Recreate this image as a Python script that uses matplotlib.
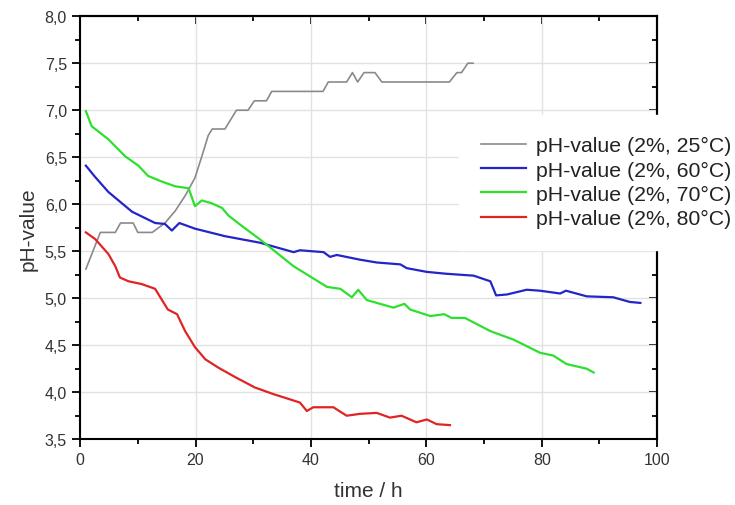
import matplotlib.pyplot as plt
from matplotlib.ticker import MultipleLocator, FuncFormatter

plt.rcParams['font.family'] = ['Liberation Sans', 'DejaVu Sans']

# 25 C
t25 = [1.0, 3.5, 6.1, 7.0, 9.2, 10.0, 12.5, 14.7, 16.5, 18.2, 19.9, 21.1, 22.2, 22.9,
       25.1, 27.1, 29.1, 30.2, 32.3, 33.2, 42.1, 43.0, 46.2, 47.2, 48.1, 49.2, 51.1,
       52.3, 64.0, 65.3, 66.1, 67.2, 68.1]
ph25 = [5.31, 5.70, 5.70, 5.80, 5.80, 5.70, 5.70, 5.80, 5.93, 6.09, 6.28, 6.51, 6.73, 6.80,
        6.80, 7.00, 7.00, 7.10, 7.10, 7.20, 7.20, 7.30, 7.30, 7.40, 7.30, 7.40, 7.40,
        7.30, 7.30, 7.40, 7.40, 7.50, 7.50]

# 60 C
t60 = [1.0, 2.6, 4.9, 9.0, 13.0, 14.7, 15.9, 17.2, 19.9, 25.1, 31.2, 37.0, 38.1, 42.2,
       43.3, 44.5, 48.5, 51.4, 55.5, 56.6, 60.1, 63.5, 68.2, 71.1, 72.1, 74.0, 77.4,
       79.7, 83.2, 84.2, 87.8, 92.4, 95.3, 97.1]
ph60 = [6.41, 6.29, 6.13, 5.92, 5.80, 5.79, 5.72, 5.80, 5.74, 5.66, 5.59, 5.49, 5.51, 5.49,
        5.44, 5.46, 5.41, 5.38, 5.36, 5.32, 5.28, 5.26, 5.24, 5.18, 5.03, 5.04, 5.09,
        5.08, 5.05, 5.08, 5.02, 5.01, 4.96, 4.95]

# 70 C
t70 = [1.0, 2.0, 4.9, 7.8, 10.1, 11.8, 14.2, 16.5, 18.8, 19.9, 21.1, 22.8, 24.6, 25.7,
       28.0, 31.3, 37.0, 42.8, 45.1, 47.1, 48.2, 49.7, 54.3, 56.2, 57.2, 60.7, 63.1,
       64.4, 66.7, 71.1, 75.1, 79.7, 82.0, 84.3, 87.8, 89.0]
ph70 = [6.99, 6.83, 6.69, 6.51, 6.41, 6.30, 6.24, 6.19, 6.17, 5.98, 6.04, 6.01, 5.96, 5.88,
        5.77, 5.62, 5.34, 5.12, 5.10, 5.01, 5.09, 4.98, 4.90, 4.94, 4.88, 4.81, 4.83,
        4.79, 4.79, 4.65, 4.56, 4.42, 4.39, 4.30, 4.25, 4.21]

# 80 C
t80 = [1.0, 2.6, 4.9, 6.1, 6.9, 8.4, 10.7, 13.0, 14.2, 15.2, 16.8, 18.2, 19.9, 21.7,
       24.0, 26.9, 30.3, 33.5, 38.1, 39.3, 40.4, 43.9, 46.2, 48.5, 51.4, 53.7, 55.7,
       58.3, 60.1, 61.8, 64.1]
ph80 = [5.70, 5.63, 5.47, 5.34, 5.22, 5.18, 5.15, 5.10, 4.98, 4.88, 4.83, 4.65, 4.48, 4.35,
        4.26, 4.16, 4.05, 3.98, 3.89, 3.80, 3.84, 3.84, 3.75, 3.77, 3.78, 3.73, 3.75,
        3.68, 3.71, 3.66, 3.65]

labels = ['pH-value (2%, 25°C)', 'pH-value (2%, 60°C)',
          'pH-value (2%, 70°C)', 'pH-value (2%, 80°C)']

fig = plt.figure(figsize=(7.35, 5.06), dpi=100)
ax = fig.add_axes([0.109, 0.130, 0.785, 0.836])

ax.plot(t25, ph25, color='#8a8a8a', lw=1.2, label=labels[0])
ax.plot(t60, ph60, color='#2424c8', lw=1.6, label=labels[1])
ax.plot(t70, ph70, color='#2ee02e', lw=1.6, label=labels[2])
ax.plot(t80, ph80, color='#e02424', lw=1.6, label=labels[3])

ax.set_xlim(0, 100)
ax.set_ylim(3.5, 8.0)
ax.xaxis.set_major_locator(MultipleLocator(20))
ax.xaxis.set_minor_locator(MultipleLocator(10))
ax.yaxis.set_major_locator(MultipleLocator(0.5))
ax.yaxis.set_minor_locator(MultipleLocator(0.25))
ax.yaxis.set_major_formatter(FuncFormatter(lambda v, p: ('%.1f' % v).replace('.', ',')))
ax.grid(True, which='major', color='#e2e2e2', lw=1.0)
ax.set_axisbelow(True)

for s in ax.spines.values():
    s.set_linewidth(1.5)
ax.tick_params(which='both', direction='out', top=False, right=False,
               width=1.3, labelsize=11.5, colors='black', labelcolor='#333333')
ax.tick_params(which='major', length=6)
ax.tick_params(which='minor', length=3.5)
# inward ticks on top and right
sec_x = ax.secondary_xaxis('top')
sec_x.xaxis.set_major_locator(MultipleLocator(20))
sec_x.xaxis.set_minor_locator(MultipleLocator(10))
sec_x.tick_params(which='both', direction='in', labeltop=False, width=1.3)
sec_x.tick_params(which='major', length=6)
sec_x.tick_params(which='minor', length=3.5)
sec_y = ax.secondary_yaxis('right')
sec_y.yaxis.set_major_locator(MultipleLocator(0.5))
sec_y.yaxis.set_minor_locator(MultipleLocator(0.25))
sec_y.tick_params(which='both', direction='in', labelright=False, width=1.3)
sec_y.tick_params(which='major', length=6)
sec_y.tick_params(which='minor', length=3.5)
for s in (sec_x, sec_y):
    for sp in s.spines.values():
        sp.set_linewidth(1.5)

ax.set_xlabel('time / h', fontsize=15, color='#333333', labelpad=10)
ax.set_ylabel('pH-value', fontsize=15, color='#333333', labelpad=5)

leg = fig.legend(loc='upper left', bbox_to_anchor=(0.625, 0.771), fontsize=15.3,
                 frameon=True, fancybox=False, edgecolor='white', facecolor='white',
                 framealpha=1.0, handlelength=2.15, handletextpad=0.45,
                 labelspacing=0.25, borderpad=1.0, borderaxespad=0)
leg.set_zorder(5)
for txt in leg.get_texts():
    txt.set_color('#222222')

fig.savefig('out.png', dpi=100)
